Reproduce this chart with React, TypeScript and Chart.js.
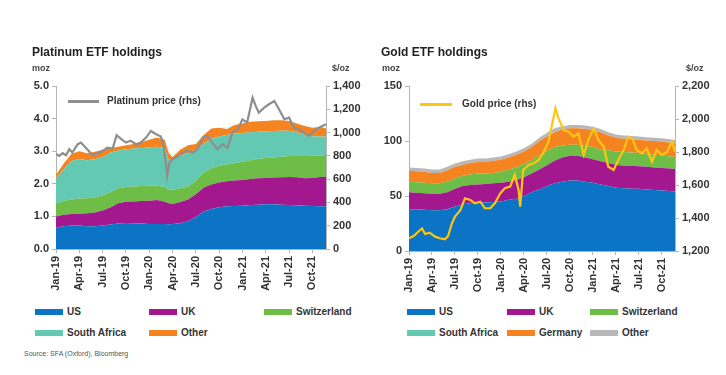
import React, { useEffect, useRef } from 'react';
import { Chart, registerables } from 'chart.js';

Chart.register(...registerables);

// ---------- shared axis ticks ----------
const TICK_MONTHS = [0, 3, 6, 9, 12, 15, 18, 21, 24, 27, 30, 33];
const TICK_LABELS = ['Jan-19', 'Apr-19', 'Jul-19', 'Oct-19', 'Jan-20', 'Apr-20', 'Jul-20', 'Oct-20', 'Jan-21', 'Apr-21', 'Jul-21', 'Oct-21'];

// ---------- Platinum ETF holdings (moz), months since Jan-19 ----------
const PT_MONTHS = [0, 1, 2, 3, 4, 5, 6, 7, 8, 9, 10, 11, 12, 13, 14, 14.5, 15, 16, 17, 18, 19, 20, 21, 22, 23, 24, 25, 26, 27, 28, 29, 30, 31, 32, 33, 34, 34.75];
const PT_US = [0.65, 0.70, 0.72, 0.72, 0.70, 0.70, 0.72, 0.75, 0.78, 0.80, 0.79, 0.78, 0.77, 0.77, 0.77, 0.76, 0.77, 0.79, 0.85, 0.98, 1.15, 1.23, 1.28, 1.31, 1.32, 1.33, 1.35, 1.36, 1.37, 1.37, 1.36, 1.35, 1.34, 1.33, 1.32, 1.31, 1.31];
const PT_UK = [0.35, 0.35, 0.35, 0.36, 0.40, 0.42, 0.46, 0.52, 0.62, 0.65, 0.67, 0.69, 0.71, 0.73, 0.68, 0.64, 0.61, 0.65, 0.67, 0.70, 0.73, 0.75, 0.76, 0.77, 0.78, 0.79, 0.80, 0.81, 0.81, 0.82, 0.84, 0.86, 0.86, 0.84, 0.86, 0.90, 0.91];
const PT_CH = [0.38, 0.43, 0.45, 0.47, 0.46, 0.46, 0.47, 0.47, 0.46, 0.45, 0.46, 0.46, 0.46, 0.45, 0.45, 0.42, 0.44, 0.42, 0.40, 0.42, 0.47, 0.50, 0.51, 0.52, 0.53, 0.56, 0.57, 0.59, 0.61, 0.62, 0.63, 0.64, 0.65, 0.68, 0.68, 0.66, 0.66];
const PT_SA = [0.80, 0.97, 1.18, 1.21, 1.16, 1.17, 1.17, 1.21, 1.16, 1.16, 1.16, 1.17, 1.18, 1.19, 1.20, 0.90, 0.93, 0.99, 1.03, 0.95, 0.87, 0.90, 0.90, 0.90, 0.91, 0.88, 0.86, 0.84, 0.82, 0.81, 0.80, 0.78, 0.73, 0.65, 0.60, 0.58, 0.57];
const PT_OTHER = [0.10, 0.17, 0.22, 0.24, 0.22, 0.23, 0.22, 0.15, 0.12, 0.12, 0.14, 0.18, 0.23, 0.28, 0.25, 0.23, 0.07, 0.20, 0.23, 0.17, 0.28, 0.32, 0.27, 0.18, 0.26, 0.29, 0.32, 0.32, 0.32, 0.33, 0.32, 0.30, 0.27, 0.27, 0.26, 0.30, 0.25];

// Platinum price ($/oz, rhs)
const PT_PRICE_MONTHS = [0, 0.43, 0.86, 1.3, 1.7, 2.1, 2.8, 3.2, 3.6, 4.1, 4.7, 5.4, 6.0, 6.6, 7.3, 7.8, 8.4, 9.0, 9.6, 10.3, 10.9, 11.6, 12.2, 12.9, 13.5, 13.9, 14.3, 14.6, 15.0, 15.6, 16.3, 16.9, 17.6, 18.2, 18.9, 19.5, 20.1, 20.8, 21.4, 22.1, 22.7, 23.4, 24.0, 24.6, 25.3, 25.7, 26.1, 26.8, 27.4, 28.1, 28.7, 29.4, 30.0, 30.6, 31.3, 31.9, 32.6, 33.2, 33.9, 34.75];
const PT_PRICE = [814, 800, 823, 806, 857, 829, 900, 914, 886, 851, 806, 823, 843, 871, 863, 977, 943, 914, 929, 900, 914, 957, 1014, 986, 966, 871, 629, 743, 771, 791, 829, 843, 829, 857, 957, 971, 914, 857, 900, 871, 1000, 1029, 1114, 1086, 1300, 1229, 1171, 1214, 1243, 1271, 1200, 1114, 1129, 1043, 1029, 1000, 971, 1014, 1043, 1071];

// ---------- Gold ETF holdings (moz) ----------
const AU_MONTHS = [0, 1, 2, 3, 4, 5, 6, 7, 8, 9, 10, 11, 12, 13, 14, 15, 16, 17, 18, 19, 20, 21, 22, 23, 24, 25, 26, 27, 28, 29, 30, 31, 32, 33, 34, 34.7];
const AU_US = [38, 38, 37.5, 37, 37, 38, 40.5, 42.5, 43.5, 44, 44, 44.5, 45, 46.5, 47.5, 50, 53.5, 56, 59, 61.5, 63, 64, 64, 63, 62, 60.5, 59, 57.5, 57, 56.5, 56.5, 56, 55.5, 55, 54.5, 54];
const AU_UK = [15.5, 15, 15, 15, 15, 15.5, 16, 16.5, 16.5, 16.5, 17, 17, 17, 16.5, 17, 17, 17, 18, 19, 20.5, 22, 22.5, 22.5, 22, 21.5, 21, 21, 21, 20.5, 21, 20.5, 20.5, 20.5, 20.5, 20.5, 20.5];
const AU_CH = [9.5, 9.5, 9.5, 9.5, 9.5, 9.5, 9.5, 9.5, 9.5, 10, 9.5, 9.5, 10, 11, 11.5, 12, 12, 13, 13, 12.5, 11, 10, 10, 10.5, 11, 10.5, 11.5, 12, 12.5, 12, 12, 11.5, 11.5, 11.5, 11, 11];
const AU_DE = [10, 10, 10, 9.5, 9.5, 10.5, 10.5, 10, 10.5, 10.5, 10.5, 11, 11, 11, 11.5, 11.5, 12, 13, 13, 13.5, 14.5, 15, 15, 15.5, 15.5, 16, 13.5, 12.5, 12, 12, 12, 12.5, 12.5, 12.5, 12.5, 12.5];
const AU_OTHER = [3, 3, 3, 3, 3, 3, 3, 3, 3, 3, 3, 3, 3, 3, 3, 3, 3, 3, 3.5, 3.5, 3, 3, 3, 3, 3, 3, 3, 3, 3, 3, 3, 3, 3, 3, 3, 3];

// Gold price ($/oz, rhs)
const AU_PRICE_MONTHS = [0, 0.6, 1.2, 1.7, 2.1, 2.7, 3.4, 4.0, 4.7, 5.1, 5.6, 6.0, 6.7, 7.3, 8.0, 8.6, 9.3, 9.9, 10.6, 11.2, 11.9, 12.5, 13.2, 13.8, 14.3, 14.5, 14.9, 15.6, 16.2, 16.9, 17.5, 18.2, 18.6, 19.1, 19.5, 20.2, 20.8, 21.5, 22.1, 22.8, 23.4, 24.1, 24.7, 25.4, 26.0, 26.7, 27.3, 28.0, 28.6, 29.1, 29.7, 30.4, 31.0, 31.7, 32.3, 33.0, 33.7, 34.3, 34.7];
const AU_PRICE = [1277, 1291, 1317, 1337, 1303, 1311, 1287, 1277, 1271, 1291, 1368, 1408, 1448, 1519, 1509, 1489, 1499, 1459, 1459, 1489, 1549, 1580, 1590, 1661, 1570, 1469, 1691, 1721, 1731, 1751, 1792, 1863, 1953, 2065, 2004, 1933, 1923, 1893, 1913, 1782, 1873, 1943, 1873, 1832, 1711, 1691, 1751, 1812, 1893, 1883, 1812, 1792, 1822, 1741, 1812, 1782, 1802, 1863, 1802];

// ---------- styling ----------
const FONT = '"Liberation Sans", Arial, sans-serif';
const TEXT = '#333333';
const AXIS = '#b4b4b4';
const C_US = '#0b74c4';
const C_UK = '#a3178f';
const C_CH = '#6dbd47';
const C_SA = '#64c9b3';
const C_OR = '#f5831f';
const C_GREY = '#b8b8b8';
const C_PT = '#8e8e8e';
const C_AU = '#ffc516';

type Layer = { label: string; values: number[]; color: string };

type ChartSpec = {
  months: number[];
  layers: Layer[];
  priceMonths: number[];
  price: number[];
  priceLabel: string;
  priceColor: string;
  xMax: number;
  yMax: number;
  yStep: number;
  yDecimals: number;
  y1Min: number;
  y1Max: number;
  pad: { left: number; right: number; top: number };
  yWidth: number;
  y1Width: number;
  xHeight: number;
};

function buildChart(canvas: HTMLCanvasElement, s: ChartSpec) {
  const tickFont = { family: FONT, size: 11, weight: 'bold' as const };
  const stackSets = s.layers.map((l, i) => ({
    label: l.label,
    data: s.months.map((m, k) => ({ x: m, y: l.values[k] })),
    backgroundColor: l.color,
    borderColor: l.color,
    borderWidth: 0,
    pointRadius: 0,
    fill: i === 0 ? 'origin' : '-1',
    yAxisID: 'y',
    tension: 0,
  }));
  const priceSet = {
    label: s.priceLabel,
    data: s.priceMonths.map((m, k) => ({ x: m, y: s.price[k] })),
    borderColor: s.priceColor,
    backgroundColor: s.priceColor,
    borderWidth: 2.2,
    pointRadius: 0,
    fill: false,
    yAxisID: 'y1',
    tension: 0,
  };
  return new Chart(canvas, {
    type: 'line',
    data: { datasets: [priceSet as any, ...(stackSets as any[])] },
    options: {
      responsive: false,
      animation: false,
      layout: { padding: { left: s.pad.left, right: s.pad.right, top: s.pad.top, bottom: 0 } },
      plugins: { legend: { display: false }, tooltip: { enabled: false } },
      scales: {
        x: {
          type: 'linear',
          min: 0,
          max: s.xMax,
          afterBuildTicks: (sc: any) => {
            sc.ticks = TICK_MONTHS.map((v) => ({ value: v }));
          },
          afterFit: (sc: any) => {
            sc.height = s.xHeight;
          },
          ticks: {
            autoSkip: false,
            maxRotation: 90,
            minRotation: 90,
            padding: 3,
            color: TEXT,
            font: tickFont,
            callback: (v: any) => {
              const i = TICK_MONTHS.indexOf(Number(v));
              return i >= 0 ? TICK_LABELS[i] : '';
            },
          },
          grid: { drawOnChartArea: false, drawTicks: true, tickLength: 4, color: AXIS },
          border: { display: true, color: AXIS, width: 1 },
        },
        y: {
          type: 'linear',
          position: 'left',
          stacked: true,
          min: 0,
          max: s.yMax,
          afterFit: (sc: any) => {
            sc.width = s.yWidth;
          },
          ticks: {
            stepSize: s.yStep,
            padding: 3,
            color: TEXT,
            font: tickFont,
            callback: (v: any) => Number(v).toFixed(s.yDecimals),
          },
          grid: { drawOnChartArea: false, drawTicks: true, tickLength: 4, color: AXIS },
          border: { display: true, color: AXIS, width: 1 },
        },
        y1: {
          type: 'linear',
          position: 'right',
          stacked: false,
          min: s.y1Min,
          max: s.y1Max,
          afterFit: (sc: any) => {
            sc.width = s.y1Width;
          },
          ticks: {
            stepSize: 200,
            padding: 3,
            color: TEXT,
            font: tickFont,
            callback: (v: any) => Number(v).toLocaleString('en-US'),
          },
          grid: { drawOnChartArea: false, drawTicks: true, tickLength: 4, color: AXIS },
          border: { display: true, color: AXIS, width: 1 },
        },
      },
    } as any,
  });
}

function ChartCanvas({ spec, left }: { spec: ChartSpec; left: number }) {
  const ref = useRef<HTMLCanvasElement | null>(null);
  useEffect(() => {
    if (!ref.current) return;
    const c = buildChart(ref.current, spec);
    return () => c.destroy();
  }, []);
  return (
    <canvas
      ref={ref}
      width={363}
      height={300}
      style={{ position: 'absolute', left, top: 0, width: 363, height: 300 }}
    />
  );
}

function Txt({ x, y, size, bold, color, children }: any) {
  return (
    <div
      style={{
        position: 'absolute',
        left: x,
        top: y - size / 2,
        fontSize: size,
        lineHeight: `${size}px`,
        fontWeight: bold ? 'bold' : 'normal',
        color: color || TEXT,
        fontFamily: FONT,
        whiteSpace: 'nowrap',
      }}
    >
      {children}
    </div>
  );
}

function Swatch({ x, y, w, h, color }: any) {
  return <div style={{ position: 'absolute', left: x, top: y - h / 2, width: w, height: h, background: color }} />;
}

function LegendItem({ x, y, color, label }: any) {
  return (
    <>
      <Swatch x={x} y={y} w={28} h={6} color={color} />
      <Txt x={x + 32} y={y} size={10} bold>
        {label}
      </Txt>
    </>
  );
}

const PT_SPEC: ChartSpec = {
  months: PT_MONTHS,
  layers: [
    { label: 'US', values: PT_US, color: C_US },
    { label: 'UK', values: PT_UK, color: C_UK },
    { label: 'Switzerland', values: PT_CH, color: C_CH },
    { label: 'South Africa', values: PT_SA, color: C_SA },
    { label: 'Other', values: PT_OTHER, color: C_OR },
  ],
  priceMonths: PT_PRICE_MONTHS,
  price: PT_PRICE,
  priceLabel: 'Platinum price (rhs)',
  priceColor: C_PT,
  xMax: 34.75,
  yMax: 5,
  yStep: 1,
  yDecimals: 1,
  y1Min: 0,
  y1Max: 1400,
  pad: { left: 16, right: 2, top: 86 },
  yWidth: 40,
  y1Width: 35,
  xHeight: 51,
};

const AU_SPEC: ChartSpec = {
  months: AU_MONTHS,
  layers: [
    { label: 'US', values: AU_US, color: C_US },
    { label: 'UK', values: AU_UK, color: C_UK },
    { label: 'Switzerland', values: AU_CH, color: C_CH },
    { label: 'Germany', values: AU_DE, color: C_OR },
    { label: 'Other', values: AU_OTHER, color: C_GREY },
  ],
  priceMonths: AU_PRICE_MONTHS,
  price: AU_PRICE,
  priceLabel: 'Gold price (rhs)',
  priceColor: C_AU,
  xMax: 34.7,
  yMax: 150,
  yStep: 50,
  yDecimals: 0,
  y1Min: 1200,
  y1Max: 2200,
  pad: { left: 6, right: 6, top: 86 },
  yWidth: 40,
  y1Width: 45,
  xHeight: 49,
};

export default function App() {
  return (
    <div style={{ position: 'absolute', left: 0, top: 0, width: 726, height: 375, background: '#fff', overflow: 'hidden' }}>
      <ChartCanvas spec={PT_SPEC} left={0} />
      <ChartCanvas spec={AU_SPEC} left={363} />

      {/* Platinum headings */}
      <Txt x={32} y={52} size={12} bold color="#222">Platinum ETF holdings</Txt>
      <Txt x={32} y={68} size={9} bold color="#444">moz</Txt>
      <Txt x={332} y={68} size={9} bold color="#444">$/oz</Txt>
      <Swatch x={68} y={101} w={31} h={3} color={C_PT} />
      <Txt x={107} y={101} size={10} bold>Platinum price (rhs)</Txt>

      {/* Gold headings */}
      <Txt x={381} y={52} size={12} bold color="#222">Gold ETF holdings</Txt>
      <Txt x={382} y={68} size={9} bold color="#444">moz</Txt>
      <Txt x={686} y={68} size={9} bold color="#444">$/oz</Txt>
      <Swatch x={420} y={104} w={32} h={3} color={C_AU} />
      <Txt x={462} y={104} size={10} bold>Gold price (rhs)</Txt>

      {/* Platinum legend */}
      <LegendItem x={35} y={312} color={C_US} label="US" />
      <LegendItem x={149} y={312} color={C_UK} label="UK" />
      <LegendItem x={264} y={312} color={C_CH} label="Switzerland" />
      <LegendItem x={35} y={333} color={C_SA} label="South Africa" />
      <LegendItem x={149} y={333} color={C_OR} label="Other" />
      <Txt x={24} y={353} size={7} color="#555">Source: SFA (Oxford), Bloomberg</Txt>

      {/* Gold legend */}
      <LegendItem x={407} y={312} color={C_US} label="US" />
      <LegendItem x={507} y={312} color={C_UK} label="UK" />
      <LegendItem x={590} y={312} color={C_CH} label="Switzerland" />
      <LegendItem x={407} y={333} color={C_SA} label="South Africa" />
      <LegendItem x={507} y={333} color={C_OR} label="Germany" />
      <LegendItem x={590} y={333} color={C_GREY} label="Other" />
    </div>
  );
}
